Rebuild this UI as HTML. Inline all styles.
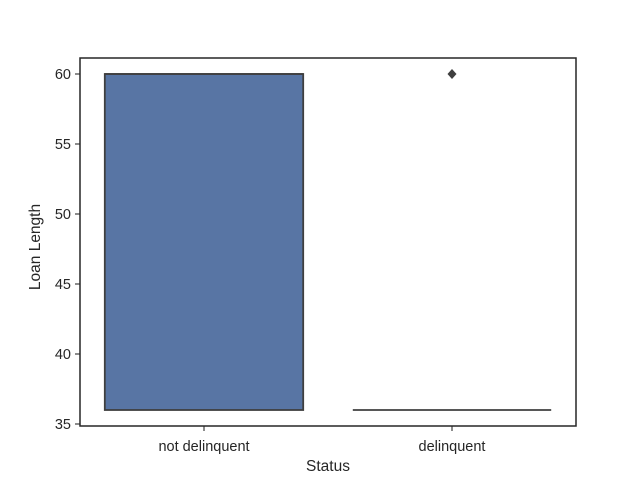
<!DOCTYPE html>
<html><head><meta charset="utf-8"><style>
body{margin:0;background:#fff;}
text{font-family:"Liberation Sans","DejaVu Sans",sans-serif;fill:#262626;}
</style></head><body>
<svg id="chart" width="640" height="480" viewBox="0 0 640 480">
<g id="plot"></g>
<text x="328" y="471" font-size="15.5" text-anchor="middle">Status</text>
<text x="40" y="247" font-size="15.5" text-anchor="middle" transform="rotate(-90 40 247)">Loan Length</text>
</svg>
<script>
const categories = ["not delinquent", "delinquent"];
const q1 = [36, 36];
const median = [60, 36];
const q3 = [60, 36];
const whiskerLow = [36, 36];
const whiskerHigh = [60, 36];
const outliers = [[], [60]];
const yTicks = [35, 40, 45, 50, 55, 60];

const L = 80, R = 576, T = 58, B = 426;
const y = v => 424 - (v - 35) * 14;
const band = (R - L) / categories.length;
const xc = i => L + band * (i + 0.5);
const NS = "http://www.w3.org/2000/svg";
const g = document.getElementById('plot');
function mk(tag, attrs) {
  const e = document.createElementNS(NS, tag);
  for (const k in attrs) e.setAttribute(k, attrs[k]);
  g.appendChild(e);
  return e;
}
const col = "#3f3f3f";
categories.forEach((c, i) => {
  const cx = xc(i), w = band * 0.8, x0 = cx - w / 2;
  const top = y(q3[i]), bot = y(q1[i]);
  const box = mk('rect', {x: x0, y: top, width: w, height: Math.max(bot - top, 0), fill: "#5875a4", stroke: col, 'stroke-width': 1.8});
  
  
  const med = mk('line', {x1: x0, x2: x0 + w, y1: y(median[i]), y2: y(median[i]), stroke: col, 'stroke-width': 1.8});
  
  
  const wl = mk('line', {x1: cx, x2: cx, y1: bot, y2: y(whiskerLow[i]), stroke: col, 'stroke-width': 1.8});
  
  
  const wh = mk('line', {x1: cx, x2: cx, y1: top, y2: y(whiskerHigh[i]), stroke: col, 'stroke-width': 1.8});
  
  
  outliers[i].forEach(v => {
    const o = mk('path', {d: `M${cx} ${y(v)-5} L${cx+4.5} ${y(v)} L${cx} ${y(v)+5} L${cx-4.5} ${y(v)} Z`, fill: col});
    
    
  });
  const t = mk('line', {x1: cx, x2: cx, y1: B, y2: B + 5, stroke: col, 'stroke-width': 1.2});
  
  
  const lab = mk('text', {x: cx, y: B + 25, 'font-size': 14.5, 'text-anchor': 'middle'});
  lab.textContent = c;
  
  
});
yTicks.forEach(v => {
  const t = mk('line', {x1: L - 5, x2: L, y1: y(v), y2: y(v), stroke: col, 'stroke-width': 1.2});
  
  
  const lab = mk('text', {x: L - 9, y: y(v) + 5, 'font-size': 14.5, 'text-anchor': 'end'});
  lab.textContent = v;
  
  
});
const frame = mk('rect', {x: L, y: T, width: R - L, height: B - T, fill: 'none', stroke: '#262626', 'stroke-width': 1.5});


</script>
</body></html>
